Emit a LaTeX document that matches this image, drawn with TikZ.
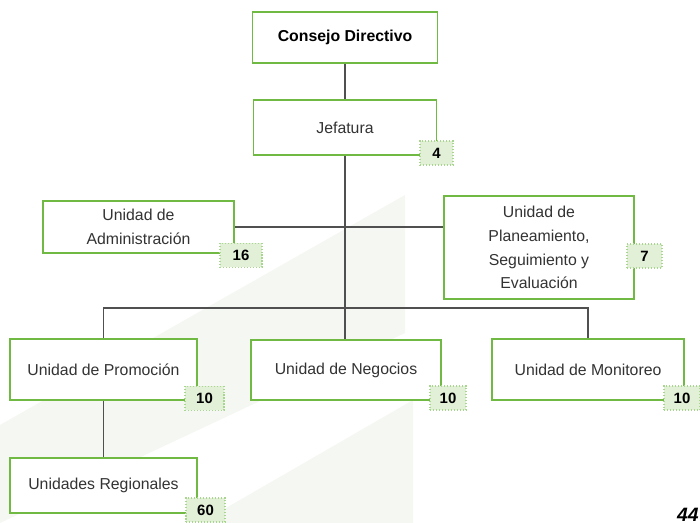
\documentclass[tikz,border=0pt]{standalone}
\usepackage{fontspec}
\setmainfont{Liberation Sans}
\usetikzlibrary{positioning}
\definecolor{verde}{RGB}{112,186,68}
\definecolor{verdeclaro}{RGB}{226,240,216}
\definecolor{linea}{RGB}{80,80,80}
\definecolor{marca}{RGB}{245,247,243}

\begin{document}
\begin{tikzpicture}[
  unidad/.style={rectangle,draw=verde,line width=1.1pt,fill=white,align=center,
    font=\fontsize{9}{13.6}\selectfont,text=black!80,inner sep=0pt},
  cifra/.style={rectangle,draw=verde!60,densely dotted,line width=0.7pt,fill=verdeclaro,
    font=\fontsize{8.5}{10}\selectfont\bfseries,minimum height=0.48cm,inner sep=0pt},
  enlace/.style={draw=linea,line width=1.1pt}]
\useasboundingbox (0,0) rectangle (14,-10.46);

% marca de agua
\fill[marca] (0,-8.5) -- (8.1,-3.9) -- (8.1,-6.66) -- (0,-10.46) -- cycle;
\fill[marca] (4,-10.46) -- (8.26,-8.0) -- (8.26,-10.46) -- cycle;

% unidades
\node[unidad,font=\fontsize{9}{13.6}\selectfont\bfseries,text=black,minimum width=3.7cm,minimum height=1.02cm] (consejo) at (6.9,-0.75) {Consejo Directivo};
\node[unidad,minimum width=3.66cm,minimum height=1.1cm] (jefatura) at (6.9,-2.55) {Jefatura};
\node[unidad,minimum width=3.82cm,minimum height=1.04cm] (admin) at (2.77,-4.54) {Unidad de\\Administración};
\node[unidad,minimum width=3.8cm,minimum height=2.06cm] (plan) at (10.78,-4.95) {Unidad de\\Planeamiento,\\Seguimiento y\\Evaluación};
\node[unidad,minimum width=3.74cm,minimum height=1.22cm] (promo) at (2.07,-7.39) {Unidad de Promoción};
\node[unidad,minimum width=3.8cm,minimum height=1.2cm] (negocios) at (6.92,-7.4) {Unidad de Negocios};
\node[unidad,minimum width=3.84cm,minimum height=1.22cm] (monitoreo) at (11.76,-7.39) {Unidad de Monitoreo};
\node[unidad,minimum width=3.74cm,minimum height=1.1cm] (regional) at (2.07,-9.71) {Unidades Regionales};

% personal
\node[cifra,minimum width=0.66cm] (c-jefatura) at (8.73,-3.06) {4};
\node[cifra,minimum width=0.84cm] (c-admin) at (4.82,-5.11) {16};
\node[cifra,minimum width=0.7cm] (c-plan) at (12.89,-5.12) {7};
\node[cifra,minimum width=0.78cm] (c-promo) at (4.09,-7.97) {10};
\node[cifra,minimum width=0.72cm] (c-negocios) at (8.96,-7.96) {10};
\node[cifra,minimum width=0.72cm] (c-monitoreo) at (13.64,-7.96) {10};
\node[cifra,minimum width=0.78cm] (c-regional) at (4.11,-10.2) {60};

% enlaces
\coordinate (bus) at (6.9,-6.16);
\draw[enlace] (consejo.south) -- (jefatura.north);
\draw[enlace] (jefatura.south) -- (jefatura.south |- negocios.north);
\draw[enlace] (admin.east) -- (admin.east -| plan.west);
\draw[enlace] (promo.north) |- (bus) -| (monitoreo.north);
\draw[enlace] (promo.south) -- (regional.north);

\node[font=\fontsize{11}{12}\selectfont\bfseries\itshape,anchor=south east,inner sep=0pt] (pagina) at (13.98,-10.44) {44};
\end{tikzpicture}
\end{document}
